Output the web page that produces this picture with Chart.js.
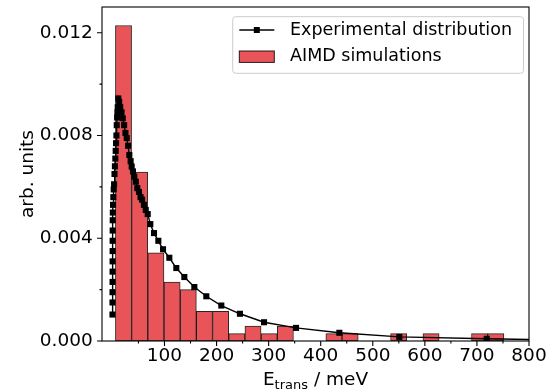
<!DOCTYPE html>
<html>
<head>
<meta charset="utf-8">
<script src="https://cdn.jsdelivr.net/npm/chart.js@4.4.0/dist/chart.umd.min.js"></script>
<style>
  html, body { margin: 0; padding: 0; background: #fff; }
  canvas { display: block; }
</style>
</head>
<body>
<canvas id="chart" width="558" height="391"></canvas>
<script>
// AIMD histogram: 24 bins, centres in meV
const binCenters = [21.3, 52.4, 83.5, 114.6, 145.7, 176.7, 207.8, 238.9, 270.0, 301.1, 332.1, 363.2,
  394.3, 425.4, 456.5, 487.5, 518.6, 549.7, 580.8, 611.9, 643.0, 674.0, 705.1, 736.2]
const aimdDensity = [0.01228, 0.00657, 0.00343, 0.00229, 0.00200, 0.00115, 0.00115, 0.00029, 0.00058, 0.00029, 0.00058, 0,
  0, 0.00029, 0.00029, 0, 0, 0.00029, 0, 0.00029, 0, 0, 0.00029, 0.00029]

// experimental distribution (meV, arb. units)
const expEnergy = [0.1, 0.15, 0.2, 0.25, 0.3, 0.35, 0.4, 0.45, 0.5, 0.6, 0.8, 1.2, 1.8, 2.5, 3.2, 4.0, 4.8, 5.6, 6.3, 7.0,
  7.7, 8.3, 9.0, 9.6, 10.2, 11.3, 13, 15, 17.5, 19.8, 22.5, 25, 27.5, 30, 32.5, 35, 37, 39.5, 42, 45, 47.8, 51, 54, 57,
  60.5, 64, 67.8, 72.8, 79.9, 88.2, 97.2, 109.3, 122.7, 138.1, 157.3, 180.3, 209.1, 244.9, 291.2, 352.6, 435.8, 551, 718.8, 900]
const expDensity = [0.00103, 0.0015, 0.0019, 0.0023, 0.0027, 0.0031, 0.0035, 0.0039, 0.0043, 0.0047, 0.0050, 0.0053, 0.0056,
  0.0059, 0.0061, 0.0065, 0.0068, 0.0071, 0.0074, 0.0077, 0.0080, 0.0084, 0.0087, 0.0089, 0.0091, 0.00944, 0.0093, 0.0091,
  0.0089, 0.00867, 0.0084, 0.0081, 0.0079, 0.0076, 0.00724, 0.0070, 0.00679, 0.0066, 0.0064, 0.0062, 0.00595, 0.0058, 0.0056,
  0.0055, 0.0053, 0.0051, 0.00494, 0.00455, 0.0042, 0.0039, 0.00357, 0.00324, 0.00284, 0.00249, 0.0021, 0.00174, 0.00138,
  0.00106, 0.00073, 0.00051, 0.00032, 0.00016, 0.000085, 0.00002]

const X_RANGE = [-20, 800]
const Y_RANGE = [0, 0.013]
const LABELS = { exp: 'Experimental distribution', aimd: 'AIMD simulations' }

const FONT = 'DejaVu Sans'
const BAR_RED = '#e85457'
const EDGE = 'rgba(0,0,0,0.85)'

const near = (v, step) => Math.abs(v / step - Math.round(v / step)) < 1e-6

// ── frame + matplotlib-style ticks ──────────────────────────────────────────
const framePlugin = {
  id: 'frame',
  afterDatasetsDraw(chart) {
    const { ctx, chartArea: a, scales: { x, y } } = chart
    ctx.save()
    ctx.strokeStyle = '#000'
    ctx.lineWidth = 1.1
    ctx.strokeRect(a.left, a.top, a.right - a.left, a.bottom - a.top)
    ctx.beginPath()
    x.ticks.forEach(t => {
      if (t.value < 0 || !near(t.value, 50)) return
      const px = x.getPixelForValue(t.value)
      const len = near(t.value, 100) ? 5 : 2.5
      ctx.moveTo(px, a.bottom); ctx.lineTo(px, a.bottom + len)
    })
    y.ticks.forEach(t => {
      if (t.value > 0.0121 || !near(t.value, 0.002)) return
      const py = y.getPixelForValue(t.value)
      const len = near(t.value, 0.004) ? 5 : 2.5
      ctx.moveTo(a.left, py); ctx.lineTo(a.left - len, py)
    })
    ctx.stroke()

    // x title with subscript
    const main = `18.5px "${FONT}"`, sub = `13px "${FONT}"`
    ctx.fillStyle = '#000'
    ctx.textBaseline = 'alphabetic'
    ctx.textAlign = 'left'
    ctx.font = main; const wE = ctx.measureText('E').width, wRest = ctx.measureText(' / meV').width
    ctx.font = sub; const wSub = ctx.measureText('trans').width
    let tx = (a.left + a.right) / 2 - (wE + wSub + wRest) / 2
    const base = a.bottom + 44
    ctx.font = main; ctx.fillText('E', tx, base); tx += wE
    ctx.font = sub; ctx.fillText('trans', tx, base + 4); tx += wSub
    ctx.font = main; ctx.fillText(' / meV', tx, base)
    ctx.restore()
  },
}

// ── legend, upper right ─────────────────────────────────────────────────────
const legendPlugin = {
  id: 'mplLegend',
  afterDraw(chart) {
    const { ctx, chartArea: a } = chart
    ctx.save()
    ctx.font = `17.5px "${FONT}"`
    const textW = Math.max(ctx.measureText(LABELS.exp).width, ctx.measureText(LABELS.aimd).width)
    const w = 6.6 + 35 + 15.7 + textW + 11.5, h = 56.6
    const right = a.right - 5.5, top = a.top + 9.7, left = right - w
    ctx.fillStyle = 'rgba(255,255,255,0.8)'
    ctx.strokeStyle = '#cccccc'
    ctx.lineWidth = 1
    ctx.beginPath()
    ctx.roundRect(left, top, w, h, 3)
    ctx.fill(); ctx.stroke()

    const hx = left + 6.6, row1 = top + 13.3, row2 = top + 40
    ctx.strokeStyle = '#000'; ctx.lineWidth = 1.4
    ctx.beginPath(); ctx.moveTo(hx, row1); ctx.lineTo(hx + 35, row1); ctx.stroke()
    ctx.fillStyle = '#000'
    ctx.fillRect(hx + 17.5 - 3, row1 - 3, 6, 6)
    ctx.fillStyle = BAR_RED
    ctx.fillRect(hx, row2 - 5.7, 35, 11.4)
    ctx.strokeStyle = EDGE; ctx.lineWidth = 1
    ctx.strokeRect(hx, row2 - 5.7, 35, 11.4)

    ctx.fillStyle = '#000'
    ctx.textBaseline = 'middle'
    ctx.fillText(LABELS.exp, hx + 35 + 15.7, row1)
    ctx.fillText(LABELS.aimd, hx + 35 + 15.7, row2)
    ctx.restore()
  },
}

new Chart(document.getElementById('chart'), {
  type: 'bar',
  data: {
    datasets: [
      {
        type: 'line',
        label: LABELS.exp,
        data: expEnergy.map((e, i) => ({ x: e, y: expDensity[i] })),
        borderColor: '#000',
        borderWidth: 1.4,
        pointStyle: 'rect',
        pointRadius: 4.3,
        pointBackgroundColor: '#000',
        pointBorderWidth: 0,
        tension: 0,
        order: 0,
      },
      {
        type: 'bar',
        label: LABELS.aimd,
        data: binCenters.map((c, i) => ({ x: c, y: aimdDensity[i] })),
        backgroundColor: BAR_RED,
        borderColor: EDGE,
        borderWidth: 1,
        borderSkipped: false,
        barPercentage: 1,
        categoryPercentage: 1,
        order: 1,
      },
    ],
  },
  options: {
    responsive: false,
    animation: false,
    layout: { padding: { left: 0, right: 29, top: 7, bottom: 0 } },
    plugins: { legend: { display: false }, tooltip: { enabled: false } },
    scales: {
      x: {
        type: 'linear',
        offset: false,
        min: X_RANGE[0],
        max: X_RANGE[1],
        grid: { display: false, drawTicks: false },
        border: { display: false },
        ticks: {
          stepSize: 50,
          autoSkip: false,
          maxRotation: 0,
          padding: 4.5,
          color: '#000',
          font: { family: FONT, size: 18.5 },
          callback: v => (v >= 0 && near(v, 100)) ? String(v) : '',
        },
        afterFit: s => { s.height = 50; s.paddingLeft = 0; s.paddingRight = 0 },
      },
      y: {
        min: Y_RANGE[0],
        max: Y_RANGE[1],
        grid: { display: false, drawTicks: false },
        border: { display: false },
        title: {
          display: true,
          text: 'arb. units',
          color: '#000',
          font: { family: FONT, size: 18.5 },
          padding: { top: 17, bottom: 0 },
        },
        ticks: {
          stepSize: 0.002,
          autoSkip: false,
          padding: 9.3,
          color: '#000',
          font: { family: FONT, size: 18.5 },
          callback: v => (v <= 0.0121 && near(v, 0.004)) ? v.toFixed(3) : '',
        },
        afterFit: s => { s.width = 102; s.paddingTop = 0; s.paddingBottom = 0 },
      },
    },
  },
  plugins: [framePlugin, legendPlugin],
})
</script>
</body>
</html>
